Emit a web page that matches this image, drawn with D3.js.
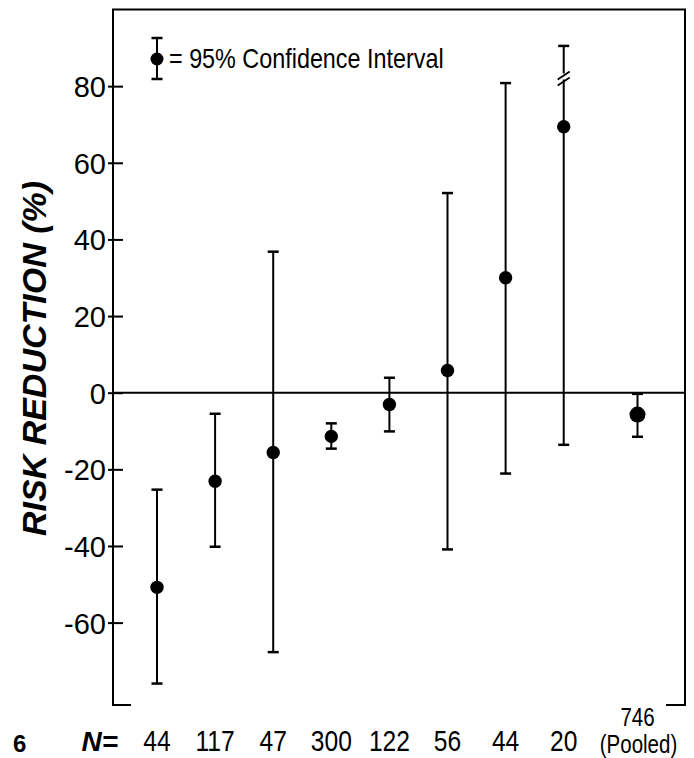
<!DOCTYPE html>
<html>
<head>
<meta charset="utf-8">
<script src="https://cdn.jsdelivr.net/npm/d3@7"></script>
<style>
  html, body { margin: 0; padding: 0; background: #fff; }
  svg { display: block; }
  text { fill: #000; }
</style>
</head>
<body>
<script>
// ---- data ----
const studyN   = ["44", "117", "47", "300", "122", "56", "44", "20", "746"];
const slot     = [0, 1, 2, 3, 4, 5, 6, 7, 8.27];   // category slot (pooled set apart)
const estimate = [-50.8, -23.1, -15.6, -11.4, -3.1, 5.8, 30.0, 69.4, -5.7];
const lower    = [-75.9, -40.2, -67.7, -14.6, -10.1, -40.9, -21.1, -13.6, -11.5];
const upper    = [-25.3, -5.5, 36.8, -8.0, 3.9, 52.1, 80.8, 90.5, -0.3];
const pooled   = [false, false, false, false, false, false, false, false, true];
const brokenAt = [null, null, null, null, null, null, null, 82, null];
const yTicks   = [-60, -40, -20, 0, 20, 40, 60, 80];
const yTitle   = "RISK REDUCTION (%)";
const legendText = "= 95% Confidence Interval";
const pooledText = "(Pooled)";
const pageNum  = "6";

const W = 694, H = 758;
const plot = { left: 113, right: 685, top: 9.5, bottom: 705 };

const svg = d3.select("body").append("svg").attr("width", W).attr("height", H);

const x = d3.scaleLinear().domain([0, 8.27]).range([157, 637.5]);
const y = d3.scaleLinear().domain([-81.5, 100]).range([plot.bottom, plot.top]);

const font = "'Liberation Sans', Arial, Helvetica, sans-serif";
const NARROW = 0.82;   // condensed look of the original's lettering

// condensed text helper
function narrowText(sel, tx, ty, size, anchor) {
  return sel.append("text")
    .attr("transform", `translate(${tx},${ty}) scale(${NARROW},1)`)
    .attr("text-anchor", anchor || "start")
    .attr("font-family", font).attr("font-size", size);
}

// frame: top line, left and right spines with small feet
svg.append("path")
  .attr("d", `M${plot.left + 18},${plot.bottom} H${plot.left} V${plot.top} H${plot.right} V${plot.bottom} H${plot.right - 19}`)
  .attr("stroke", "#000").attr("stroke-width", 2).attr("fill", "none");

// zero line
svg.append("line")
  .attr("x1", plot.left).attr("x2", plot.right)
  .attr("y1", y(0)).attr("y2", y(0))
  .attr("stroke", "#000").attr("stroke-width", 2);

// y axis ticks + labels
const yAxis = d3.axisLeft(y).tickValues(yTicks).tickFormat(d => String(d))
  .tickSizeInner(-10).tickSizeOuter(0).tickPadding(8);
const gy = svg.append("g").attr("transform", `translate(${plot.left},0)`).call(yAxis);
gy.select(".domain").remove();
gy.selectAll(".tick line").attr("x1", -5).attr("x2", 10).attr("stroke", "#000").attr("stroke-width", 2);
gy.selectAll(".tick text")
  .attr("font-family", font).attr("font-size", 29).attr("fill", "#000")
  .attr("x", -7).attr("dy", "0.36em");

// y title
svg.append("text")
  .attr("transform", `translate(46,${(177 + 540) / 2}) rotate(-90)`)
  .attr("text-anchor", "middle")
  .attr("font-family", font).attr("font-weight", "bold").attr("font-style", "italic")
  .attr("font-size", 34)
  .text(yTitle);

// error bars
const idx = d3.range(studyN.length);
const capHalf = 5.5;
const bars = svg.append("g").attr("stroke", "#000").attr("stroke-width", 2);
bars.selectAll("line.v").data(idx).join("line").attr("class", "v")
  .attr("x1", i => x(slot[i])).attr("x2", i => x(slot[i]))
  .attr("y1", i => y(lower[i])).attr("y2", i => y(upper[i]));
bars.selectAll("line.lo").data(idx).join("line").attr("class", "lo")
  .attr("x1", i => x(slot[i]) - capHalf).attr("x2", i => x(slot[i]) + capHalf)
  .attr("y1", i => y(lower[i])).attr("y2", i => y(lower[i])).attr("stroke-width", 2.5);
bars.selectAll("line.hi").data(idx).join("line").attr("class", "hi")
  .attr("x1", i => x(slot[i]) - capHalf).attr("x2", i => x(slot[i]) + capHalf)
  .attr("y1", i => y(upper[i])).attr("y2", i => y(upper[i])).attr("stroke-width", 2.5);

// axis-break marks
idx.filter(i => brokenAt[i] !== null).forEach(i => {
  const cx = x(slot[i]), cy = y(brokenAt[i]);
  const g = svg.append("g");
  g.append("rect").attr("x", cx - 3).attr("y", cy - 5).attr("width", 6).attr("height", 6).attr("fill", "#fff");
  [-3, 3].forEach(off => {
    g.append("line")
      .attr("x1", cx - 6).attr("y1", cy + off + 4)
      .attr("x2", cx + 6).attr("y2", cy + off - 4)
      .attr("stroke", "#000").attr("stroke-width", 2);
  });
});

// points
svg.append("g").selectAll("circle").data(idx).join("circle")
  .attr("cx", i => x(slot[i])).attr("cy", i => y(estimate[i]))
  .attr("r", i => pooled[i] ? 8 : 6.7)
  .attr("fill", "#000");

// x labels (N)
const labY = 751;
svg.append("text")
  .attr("x", 118).attr("y", labY).attr("text-anchor", "end")
  .attr("font-family", font).attr("font-weight", "bold").attr("font-style", "italic")
  .attr("font-size", 28).text("N=");
idx.forEach(i => {
  if (pooled[i]) {
    narrowText(svg, x(slot[i]), 726, 25, "middle").text(studyN[i]);
    narrowText(svg, x(slot[i]) + 1, 752.5, 25, "middle").text(pooledText);
  } else {
    narrowText(svg, x(slot[i]), labY, 30, "middle").text(studyN[i]);
  }
});

// legend
const lx = 157, ly = 59;
const lg = svg.append("g").attr("stroke", "#000").attr("stroke-width", 2);
lg.append("line").attr("x1", lx).attr("x2", lx).attr("y1", 38).attr("y2", 79);
lg.append("line").attr("x1", lx - capHalf).attr("x2", lx + capHalf).attr("y1", 38).attr("y2", 38).attr("stroke-width", 2.5);
lg.append("line").attr("x1", lx - capHalf).attr("x2", lx + capHalf).attr("y1", 79).attr("y2", 79).attr("stroke-width", 2.5);
svg.append("circle").attr("cx", lx).attr("cy", ly).attr("r", 6.5).attr("fill", "#000");
narrowText(svg, 169, 68, 28.5).text(legendText);

// page number
svg.append("text").attr("x", 13).attr("y", 752)
  .attr("font-family", font).attr("font-weight", "bold").attr("font-size", 24)
  .text(pageNum);
</script>
</body>
</html>
